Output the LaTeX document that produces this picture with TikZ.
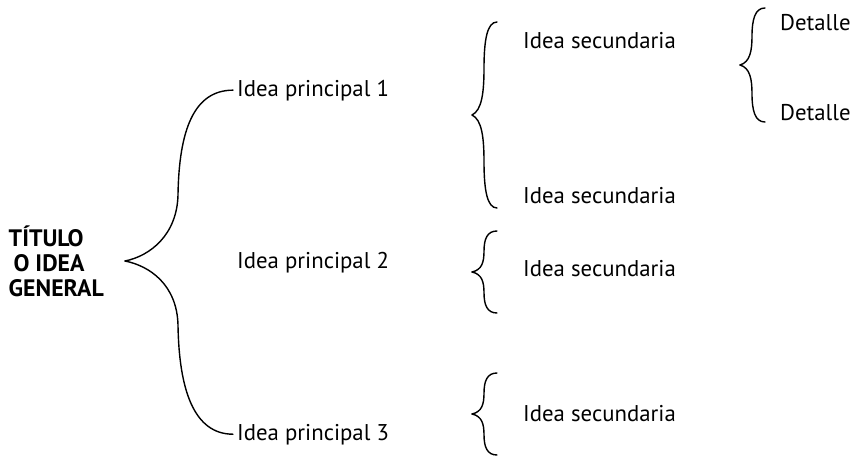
\documentclass[tikz,border=0pt]{standalone}
\usepackage{fontspec}
\setmainfont{PT Sans}
\usetikzlibrary{positioning}
\usetikzlibrary{calc}

\tikzset{
  idea/.style={anchor=base west, inner xsep=4pt, inner ysep=2pt, font=\fontsize{22.8}{27}\selectfont},
  llave/.style={line width=1.4pt, line cap=round},
}

\begin{document}
\begin{tikzpicture}[x=1pt,y=-1pt]
        \useasboundingbox (0,0) rectangle (857,460);
        % titulo
        \node[align=left, inner sep=0pt, anchor=east, font=\bfseries\fontsize{23.8}{25}\selectfont] (titulo) at (104,261) {TÍTULO\\\hspace{0.2em}O IDEA\\GENERAL};
        \coordinate[right=21pt of titulo] (punta);
        % ideas principales
        \node[idea] (p1) at (233,96) {Idea principal 1};
        \node[idea] (p2) at (233,268) {Idea principal 2};
        \node[idea] (p3) at (233,440) {Idea principal 3};
        \coordinate (m1) at (178,195);
        \coordinate (m3) at (178,325);
        \draw[llave] (punta) .. controls +(25,-5) and +(-1,40) .. (m1) .. controls +(1,-65) and +(-39,0) .. (p1.west);
        \draw[llave] (punta) .. controls +(25,5) and +(-1,-40) .. (m3) .. controls +(1,65) and +(-39,0) .. (p3.west);
        % ideas secundarias y detalles
        \node[idea] (s1) at (519,49) {Idea secundaria};
        \node[idea] (s2) at (519,203) {Idea secundaria};
        \node[idea] (s3) at (519,276) {Idea secundaria};
        \node[idea] (s4) at (519,421) {Idea secundaria};
        \node[idea] (d1) at (776,31) {Detalle};
        \node[idea] (d2) at (776,120) {Detalle};
        % llaves
        \foreach \x/\y/\h in {472/115/93, 472/272/41, 472/414/41, 740/65/57}{
          \draw[llave] (\x,\y) .. controls +(10,-0.05*\h) and +(0,0.25*\h) .. (\x+12,\y-0.5*\h) .. controls +(0,-0.3*\h) and +(-10,0) .. (\x+25,\y-\h);
          \draw[llave] (\x,\y) .. controls +(10,0.05*\h) and +(0,-0.25*\h) .. (\x+12,\y+0.5*\h) .. controls +(0,0.3*\h) and +(-10,0) .. (\x+25,\y+\h);
        }
    \end{tikzpicture}
\end{document}
